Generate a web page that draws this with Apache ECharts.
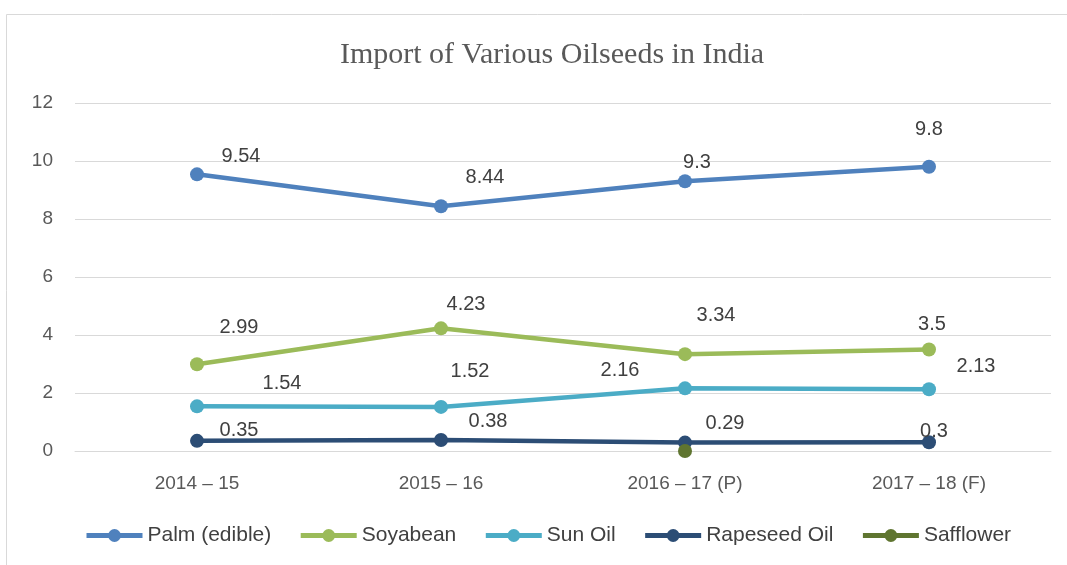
<!DOCTYPE html>
<html><head><meta charset="utf-8">
<script src="https://cdn.jsdelivr.net/npm/echarts@6/dist/echarts.min.js"></script>
<style>html,body{margin:0;padding:0;background:#fff}#c{width:1067px;height:565px}</style>
</head><body><div id="c"></div>
<script>
const categories = ['2014 – 15', '2015 – 16', '2016 – 17 (P)', '2017 – 18 (F)'];
const palm = [9.54, 8.44, 9.3, 9.8];
const soyabean = [2.99, 4.23, 3.34, 3.5];
const sunOil = [1.54, 1.52, 2.16, 2.13];
const rapeseed = [0.35, 0.38, 0.29, 0.3];
const safflower = [null, null, 0, null];
const yTicks = [0, 2, 4, 6, 8, 10, 12];

// label offsets (style, in pixels) per series per point
const offsets = {
  palm: [[44,-18],[44,-29],[12,-19],[0,-37]],
  soy: [[42,-37],[25,-24],[31,-39],[3,-25]],
  sun: [[85,-23],[29,-35],[-65,-18],[47,-23]],
  rape: [[42,-10],[47,-18],[40,-19],[5,-11]]
};

const FONT = 'Liberation Sans, Arial, sans-serif';
const chart = echarts.init(document.getElementById('c'));
function mk(name, data, color, off) {
  return {
    name, type: 'line', color,
    symbol: 'circle', symbolSize: 14,
    lineStyle: { width: 4.5, color },
    itemStyle: { color },
    label: { show: false },
    connectNulls: false,
    data: data.map((v, i) => ({
      value: v,
      label: off ? {
        show: v !== null, position: 'inside', offset: off[i],
        formatter: '{c}', fontFamily: FONT,
        fontSize: 20, color: '#404040'
      } : { show: false }
    }))
  };
}
chart.setOption({
  animation: false,
  title: {
    text: 'Import of Various Oilseeds in India', left: 547, textAlign: 'center', top: 35,
    textStyle: { fontFamily: 'Liberation Serif, serif', fontWeight: 'normal', fontSize: 30, color: '#595959' }
  },
  graphic: [{ type: 'rect', shape: { x: 6.5, y: 14.5, width: 1080, height: 600 },
    style: { fill: 'none', stroke: '#d9d9d9', lineWidth: 1 }, silent: true }],
  grid: { left: 75, right: 16, top: 103, bottom: 114 },
  legend: {
    bottom: 14, left: 79, itemGap: 27, itemWidth: 56, itemHeight: 16,
    lineStyle: { width: 5 },
    textStyle: { fontFamily: FONT, fontSize: 21, color: '#404040' },
    data: ['Palm (edible)', 'Soyabean', 'Sun Oil', 'Rapeseed Oil', 'Safflower']
  },
  xAxis: {
    type: 'category', data: categories, boundaryGap: true,
    axisLine: { lineStyle: { color: '#d9d9d9', width: 1 } },
    axisTick: { show: false },
    axisLabel: { fontFamily: FONT, fontSize: 19, color: '#595959', margin: 23 }
  },
  yAxis: {
    type: 'value', min: yTicks[0], max: yTicks[yTicks.length - 1], interval: 2,
    axisLine: { show: false }, axisTick: { show: false },
    splitLine: { lineStyle: { color: '#d9d9d9', width: 1 } },
    axisLabel: { fontFamily: FONT, fontSize: 19, color: '#595959', margin: 22 }
  },
  series: [
    mk('Palm (edible)', palm, '#4f81bd', offsets.palm),
    mk('Soyabean', soyabean, '#9bbb59', offsets.soy),
    mk('Sun Oil', sunOil, '#4bacc6', offsets.sun),
    mk('Rapeseed Oil', rapeseed, '#2c4d75', offsets.rape),
    mk('Safflower', safflower, '#5f7530', null)
  ]
});
</script></body></html>
